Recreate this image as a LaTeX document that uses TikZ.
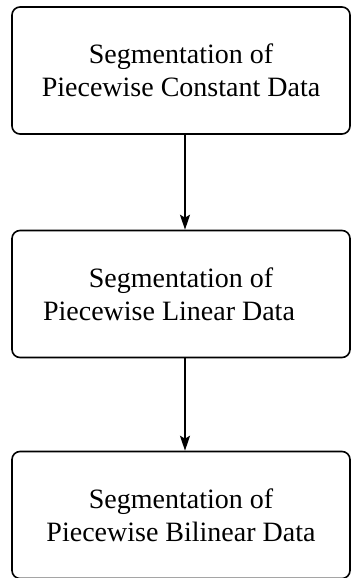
\documentclass[tikz,border=0pt]{standalone}
\usepackage{fontspec}
\setmainfont{Liberation Serif}
\usetikzlibrary{arrows.meta}
\begin{document}
\begin{tikzpicture}[x=1pt,y=-1pt,
  box/.style={draw=black, line width=1.6pt, rounded corners=8pt,
    minimum width=338pt, minimum height=127pt, inner sep=0pt,
    align=center, font=\fontsize{28}{33}\selectfont},
  arr/.style={draw=black, line width=1.6pt,
    -{Stealth[length=15pt,width=10pt,inset=3pt]}}]
\useasboundingbox (0,0) rectangle (351,578);
\node[box] (b1) at (181,70.5) {Segmentation of\\Piecewise Constant Data};
\node[box] (b2) at (181,294) {Segmentation of\\\hspace*{-24pt}Piecewise Linear Data};
\node[box] (b3) at (181,515) {Segmentation of\\Piecewise Bilinear Data};
\coordinate (ax) at (185,0);
\draw[arr] (b1.south -| ax) -- (b2.north -| ax);
\draw[arr] (b2.south -| ax) -- (b3.north -| ax);
\end{tikzpicture}
\end{document}
